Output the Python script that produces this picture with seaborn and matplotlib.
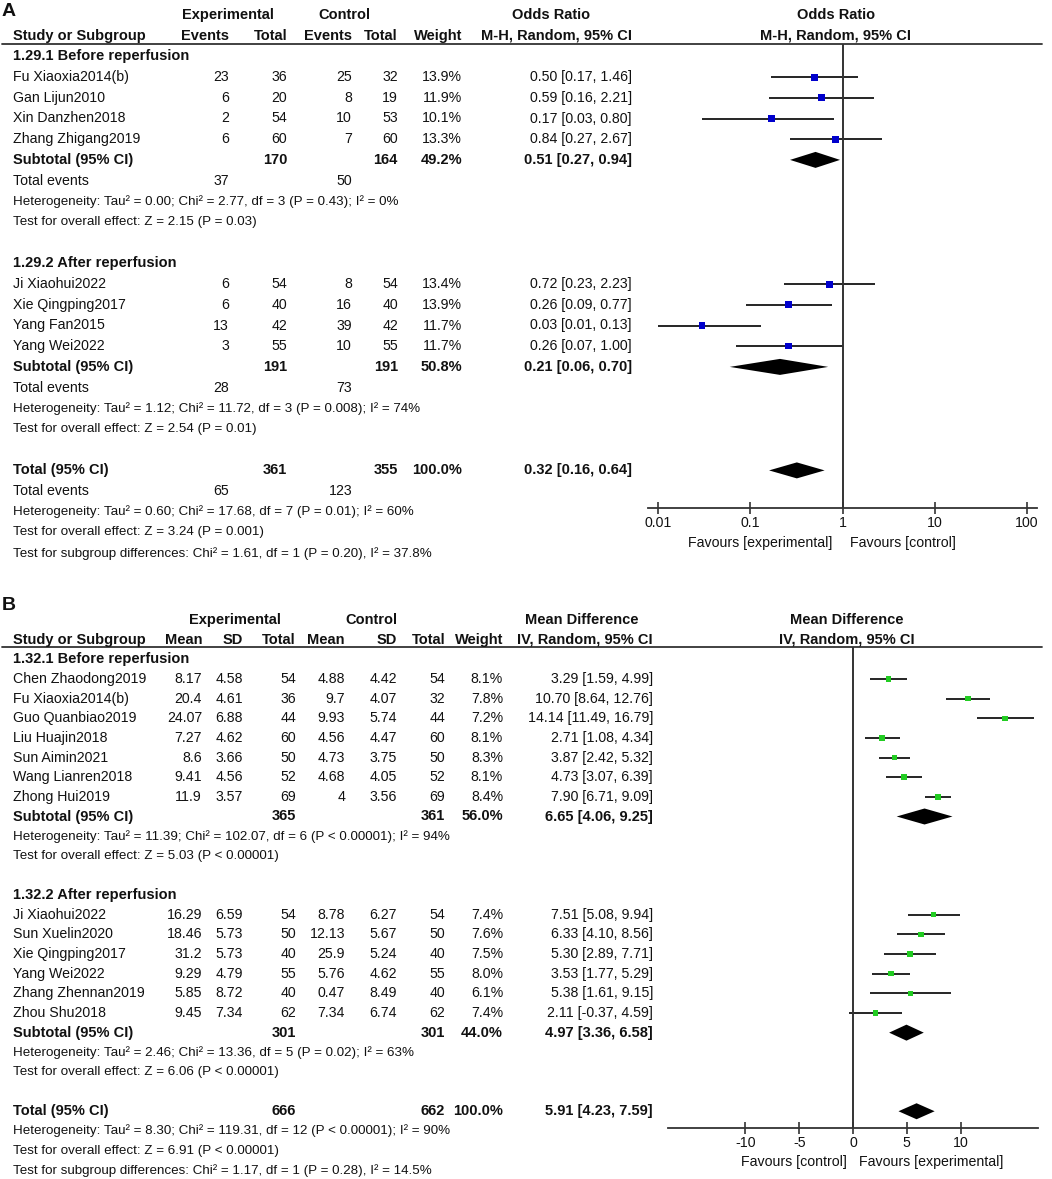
import numpy as np
import pandas as pd
import matplotlib
matplotlib.use("Agg")
import matplotlib.pyplot as plt
import seaborn as sns

# ---------------- panel A: odds ratio (events) ----------------
a_groups = ["1.29.1 Before reperfusion", "1.29.2 After reperfusion"]
a_study = [["Fu Xiaoxia2014(b)", "Gan Lijun2010", "Xin Danzhen2018", "Zhang Zhigang2019"],
           ["Ji Xiaohui2022", "Xie Qingping2017", "Yang Fan2015", "Yang Wei2022"]]
a_exp_events = [[23, 6, 2, 6], [6, 6, 13, 3]]
a_exp_total = [[36, 20, 54, 60], [54, 40, 42, 55]]
a_ctl_events = [[25, 8, 10, 7], [8, 16, 39, 10]]
a_ctl_total = [[32, 19, 53, 60], [54, 40, 42, 55]]
a_weight = [[13.9, 11.9, 10.1, 13.3], [13.4, 13.9, 11.7, 11.7]]
a_or = [[0.50, 0.59, 0.17, 0.84], [0.72, 0.26, 0.03, 0.26]]
a_lo = [[0.17, 0.16, 0.03, 0.27], [0.23, 0.09, 0.01, 0.07]]
a_hi = [[1.46, 2.21, 0.80, 2.67], [2.23, 0.77, 0.13, 1.00]]
a_sub_total = [(170, 164), (191, 191)]
a_sub_weight = [49.2, 50.8]
a_sub_or = [(0.51, 0.27, 0.94), (0.21, 0.06, 0.70)]
a_sub_events = [(37, 50), (28, 73)]
a_sub_het = ["Heterogeneity: Tau\u00b2 = 0.00; Chi\u00b2 = 2.77, df = 3 (P = 0.43); I\u00b2 = 0%",
             "Heterogeneity: Tau\u00b2 = 1.12; Chi\u00b2 = 11.72, df = 3 (P = 0.008); I\u00b2 = 74%"]
a_sub_z = ["Test for overall effect: Z = 2.15 (P = 0.03)",
           "Test for overall effect: Z = 2.54 (P = 0.01)"]
a_tot_total = (361, 355)
a_tot_or = (0.32, 0.16, 0.64)
a_tot_events = (65, 123)
a_tot_text = ["Heterogeneity: Tau\u00b2 = 0.60; Chi\u00b2 = 17.68, df = 7 (P = 0.01); I\u00b2 = 60%",
              "Test for overall effect: Z = 3.24 (P = 0.001)",
              "Test for subgroup differences: Chi\u00b2 = 1.61, df = 1 (P = 0.20), I\u00b2 = 37.8%"]
a_ticks = [0.01, 0.1, 1, 10, 100]
a_tick_labels = ["0.01", "0.1", "1", "10", "100"]

# ---------------- panel B: mean difference ----------------
b_groups = ["1.32.1 Before reperfusion", "1.32.2 After reperfusion"]
b_study = [["Chen Zhaodong2019", "Fu Xiaoxia2014(b)", "Guo Quanbiao2019", "Liu Huajin2018",
            "Sun Aimin2021", "Wang Lianren2018", "Zhong Hui2019"],
           ["Ji Xiaohui2022", "Sun Xuelin2020", "Xie Qingping2017", "Yang Wei2022",
            "Zhang Zhennan2019", "Zhou Shu2018"]]
b_exp_mean = [[8.17, 20.4, 24.07, 7.27, 8.6, 9.41, 11.9], [16.29, 18.46, 31.2, 9.29, 5.85, 9.45]]
b_exp_sd = [[4.58, 4.61, 6.88, 4.62, 3.66, 4.56, 3.57], [6.59, 5.73, 5.73, 4.79, 8.72, 7.34]]
b_exp_n = [[54, 36, 44, 60, 50, 52, 69], [54, 50, 40, 55, 40, 62]]
b_ctl_mean = [[4.88, 9.7, 9.93, 4.56, 4.73, 4.68, 4], [8.78, 12.13, 25.9, 5.76, 0.47, 7.34]]
b_ctl_sd = [[4.42, 4.07, 5.74, 4.47, 3.75, 4.05, 3.56], [6.27, 5.67, 5.24, 4.62, 8.49, 6.74]]
b_ctl_n = [[54, 32, 44, 60, 50, 52, 69], [54, 50, 40, 55, 40, 62]]
b_weight = [[8.1, 7.8, 7.2, 8.1, 8.3, 8.1, 8.4], [7.4, 7.6, 7.5, 8.0, 6.1, 7.4]]
b_md = [[3.29, 10.70, 14.14, 2.71, 3.87, 4.73, 7.90], [7.51, 6.33, 5.30, 3.53, 5.38, 2.11]]
b_lo = [[1.59, 8.64, 11.49, 1.08, 2.42, 3.07, 6.71], [5.08, 4.10, 2.89, 1.77, 1.61, -0.37]]
b_hi = [[4.99, 12.76, 16.79, 4.34, 5.32, 6.39, 9.09], [9.94, 8.56, 7.71, 5.29, 9.15, 4.59]]
b_sub_total = [(365, 361), (301, 301)]
b_sub_weight = [56.0, 44.0]
b_sub_md = [(6.65, 4.06, 9.25), (4.97, 3.36, 6.58)]
b_sub_het = ["Heterogeneity: Tau\u00b2 = 11.39; Chi\u00b2 = 102.07, df = 6 (P < 0.00001); I\u00b2 = 94%",
             "Heterogeneity: Tau\u00b2 = 2.46; Chi\u00b2 = 13.36, df = 5 (P = 0.02); I\u00b2 = 63%"]
b_sub_z = ["Test for overall effect: Z = 5.03 (P < 0.00001)",
           "Test for overall effect: Z = 6.06 (P < 0.00001)"]
b_tot_total = (666, 662)
b_tot_md = (5.91, 4.23, 7.59)
b_tot_text = ["Heterogeneity: Tau\u00b2 = 8.30; Chi\u00b2 = 119.31, df = 12 (P < 0.00001); I\u00b2 = 90%",
              "Test for overall effect: Z = 6.91 (P < 0.00001)",
              "Test for subgroup differences: Chi\u00b2 = 1.17, df = 1 (P = 0.28), I\u00b2 = 14.5%"]
b_ticks = [-10, -5, 0, 5, 10]

sns.set_theme(style="white")
plt.rcParams["font.family"] = ["Liberation Sans", "DejaVu Sans"]

FS = 10.2      # names, numbers
FS_BOLD = 10.5 # headers, subtotals
FS_STAT = 9.6  # heterogeneity / test lines
INK = "#111111"
LINE = "#333333"
W, H = 1052, 1179

fig = plt.figure(figsize=(W / 100, H / 100), dpi=100)
fig.patch.set_facecolor("white")
bg = fig.add_axes([0, 0, 1, 1])
bg.set_xlim(0, W)
bg.set_ylim(H, 0)
bg.axis("off")


def put(x, y, s, ha="left", bold=False, size=None):
    if size is None:
        size = FS_BOLD if bold else FS
    bg.text(x, y, s, ha=ha, va="center", fontsize=size, color=INK,
            fontweight="bold" if bold else "normal")


def ci(v):
    return "%.2f [%.2f, %.2f]" % v


def forest_axes(x0, x1, y0, y1):
    ax = fig.add_axes([x0 / W, 1 - y1 / H, (x1 - x0) / W, (y1 - y0) / H])
    ax.set_ylim(y1, y0)
    ax.patch.set_alpha(0)
    for s in ["top", "left", "right"]:
        ax.spines[s].set_visible(False)
    ax.spines["bottom"].set_color(LINE)
    ax.spines["bottom"].set_linewidth(1.3)
    ax.set_yticks([])
    ax.tick_params(axis="x", direction="inout", length=8, width=1.2, pad=2,
                   labelsize=FS, colors=LINE, labelcolor=INK, bottom=True)
    return ax


def diamond(ax, y, est, lo, hi, h=8):
    ax.fill([lo, est, hi, est], [y, y - h, y, y + h], color="black", lw=0)


# ================= panel A =================
def ya(i):
    return 15 + 20.7 * i


put(2, 12, "A", bold=True, size=14)
put(228, ya(0), "Experimental", ha="center", bold=True)
put(344, ya(0), "Control", ha="center", bold=True)
put(551, ya(0), "Odds Ratio", ha="center", bold=True)
put(836, ya(0), "Odds Ratio", ha="center", bold=True)
put(13, ya(1), "Study or Subgroup", bold=True)
for x, s in [(229, "Events"), (287, "Total"), (352, "Events"), (398, "Total"),
             (462, "Weight"), (632, "M-H, Random, 95% CI")]:
    put(x, ya(1), s, ha="right", bold=True)
put(836, ya(1), "M-H, Random, 95% CI", ha="center", bold=True)
bg.plot([2, 1042], [44, 44], color=LINE, lw=1.3)

ax_a = forest_axes(648, 1037, 44, 508)
pts_a, dia_a = [], []
r = 2
for g in range(2):
    put(13, ya(r), a_groups[g], bold=True)
    r += 1
    for k in range(len(a_study[g])):
        y = ya(r)
        put(13, y, a_study[g][k])
        put(229, y, str(a_exp_events[g][k]), ha="right")
        put(287, y, str(a_exp_total[g][k]), ha="right")
        put(352, y, str(a_ctl_events[g][k]), ha="right")
        put(398, y, str(a_ctl_total[g][k]), ha="right")
        put(462, y, "%.1f%%" % a_weight[g][k], ha="right")
        put(632, y, ci((a_or[g][k], a_lo[g][k], a_hi[g][k])), ha="right")
        pts_a.append((y, a_or[g][k], a_lo[g][k], a_hi[g][k], a_weight[g][k]))
        r += 1
    y = ya(r)
    put(13, y, "Subtotal (95% CI)", bold=True)
    put(287, y, str(a_sub_total[g][0]), ha="right", bold=True)
    put(398, y, str(a_sub_total[g][1]), ha="right", bold=True)
    put(462, y, "%.1f%%" % a_sub_weight[g], ha="right", bold=True)
    put(632, y, ci(a_sub_or[g]), ha="right", bold=True)
    dia_a.append((y,) + a_sub_or[g])
    r += 1
    put(13, ya(r), "Total events")
    put(229, ya(r), str(a_sub_events[g][0]), ha="right")
    put(352, ya(r), str(a_sub_events[g][1]), ha="right")
    r += 1
    put(13, ya(r), a_sub_het[g], size=FS_STAT)
    r += 1
    put(13, ya(r), a_sub_z[g], size=FS_STAT)
    r += 2

y = ya(r)
put(13, y, "Total (95% CI)", bold=True)
put(287, y, str(a_tot_total[0]), ha="right", bold=True)
put(398, y, str(a_tot_total[1]), ha="right", bold=True)
put(462, y, "100.0%", ha="right", bold=True)
put(632, y, ci(a_tot_or), ha="right", bold=True)
dia_a.append((y,) + a_tot_or)
r += 1
put(13, ya(r), "Total events")
put(229, ya(r), str(a_tot_events[0]), ha="right")
put(352, ya(r), str(a_tot_events[1]), ha="right")
for t in a_tot_text:
    r += 1
    put(13, ya(r), t, size=FS_STAT)

df_a = pd.DataFrame(pts_a, columns=["y", "est", "lo", "hi", "w"])
ax_a.set_xscale("log")
ax_a.hlines(df_a["y"], df_a["lo"], df_a["hi"], color="black", lw=1.2)
sns.scatterplot(data=df_a, x="est", y="y", size="w", sizes=(20, 26), marker="s",
                color="#0000cc", linewidth=0, legend=False, ax=ax_a, zorder=3)
for d in dia_a:
    diamond(ax_a, *d)
ax_a.axvline(1, color=LINE, lw=1.4)
ax_a.set_xlim(10 ** -2.108, 10 ** 2.108)
ax_a.set_ylim(508, 44)
ax_a.set_xticks(a_ticks)
ax_a.set_xticklabels(a_tick_labels)
ax_a.minorticks_off()
ax_a.set_xlabel("")
ax_a.set_ylabel("")
put(832, 543, "Favours [experimental]")
bg.texts[-1].set_ha("right")
put(850, 543, "Favours [control]")

# ================= panel B =================
def yb(i):
    return 620 + 19.65 * i


put(2, 606, "B", bold=True, size=14)
put(235, yb(0), "Experimental", ha="center", bold=True)
put(371, yb(0), "Control", ha="center", bold=True)
put(582, yb(0), "Mean Difference", ha="center", bold=True)
put(847, yb(0), "Mean Difference", ha="center", bold=True)
put(13, yb(1), "Study or Subgroup", bold=True)
for x, s in [(202, "Mean"), (243, "SD"), (296, "Total"), (345, "Mean"), (397, "SD"),
             (445, "Total"), (503, "Weight"), (653, "IV, Random, 95% CI")]:
    put(x, yb(1), s, ha="right", bold=True)
put(847, yb(1), "IV, Random, 95% CI", ha="center", bold=True)
bg.plot([2, 1042], [647, 647], color=LINE, lw=1.3)

ax_b = forest_axes(668, 1038, 647, 1128)
pts_b, dia_b = [], []
r = 2
for g in range(2):
    put(13, yb(r), b_groups[g], bold=True)
    r += 1
    for k in range(len(b_study[g])):
        y = yb(r)
        put(13, y, b_study[g][k])
        put(202, y, "%g" % b_exp_mean[g][k], ha="right")
        put(243, y, "%g" % b_exp_sd[g][k], ha="right")
        put(296, y, str(b_exp_n[g][k]), ha="right")
        put(345, y, "%g" % b_ctl_mean[g][k], ha="right")
        put(397, y, "%g" % b_ctl_sd[g][k], ha="right")
        put(445, y, str(b_ctl_n[g][k]), ha="right")
        put(503, y, "%.1f%%" % b_weight[g][k], ha="right")
        put(653, y, ci((b_md[g][k], b_lo[g][k], b_hi[g][k])), ha="right")
        pts_b.append((y, b_md[g][k], b_lo[g][k], b_hi[g][k], b_weight[g][k]))
        r += 1
    y = yb(r)
    put(13, y, "Subtotal (95% CI)", bold=True)
    put(296, y, str(b_sub_total[g][0]), ha="right", bold=True)
    put(445, y, str(b_sub_total[g][1]), ha="right", bold=True)
    put(503, y, "%.1f%%" % b_sub_weight[g], ha="right", bold=True)
    put(653, y, ci(b_sub_md[g]), ha="right", bold=True)
    dia_b.append((y,) + b_sub_md[g])
    r += 1
    put(13, yb(r), b_sub_het[g], size=FS_STAT)
    r += 1
    put(13, yb(r), b_sub_z[g], size=FS_STAT)
    r += 2

y = yb(r)
put(13, y, "Total (95% CI)", bold=True)
put(296, y, str(b_tot_total[0]), ha="right", bold=True)
put(445, y, str(b_tot_total[1]), ha="right", bold=True)
put(503, y, "100.0%", ha="right", bold=True)
put(653, y, ci(b_tot_md), ha="right", bold=True)
dia_b.append((y,) + b_tot_md)
for t in b_tot_text:
    r += 1
    put(13, yb(r), t, size=FS_STAT)

df_b = pd.DataFrame(pts_b, columns=["y", "est", "lo", "hi", "w"])
ax_b.hlines(df_b["y"], df_b["lo"], df_b["hi"], color="black", lw=1.2)
sns.scatterplot(data=df_b, x="est", y="y", size="w", sizes=(13, 16), marker="s",
                color="#22cc22", linewidth=0, legend=False, ax=ax_b, zorder=3)
for d in dia_b:
    diamond(ax_b, *d)
ax_b.axvline(0, color=LINE, lw=1.4)
ax_b.set_xlim(-17.2, 17.2)
ax_b.set_ylim(1128, 647)
ax_b.set_xticks(b_ticks)
ax_b.set_xticklabels([str(t) for t in b_ticks])
ax_b.set_xlabel("")
ax_b.set_ylabel("")
put(847, 1162, "Favours [control]", ha="right")
put(859, 1162, "Favours [experimental]")

fig.savefig("out.png", dpi=100, facecolor="white")
